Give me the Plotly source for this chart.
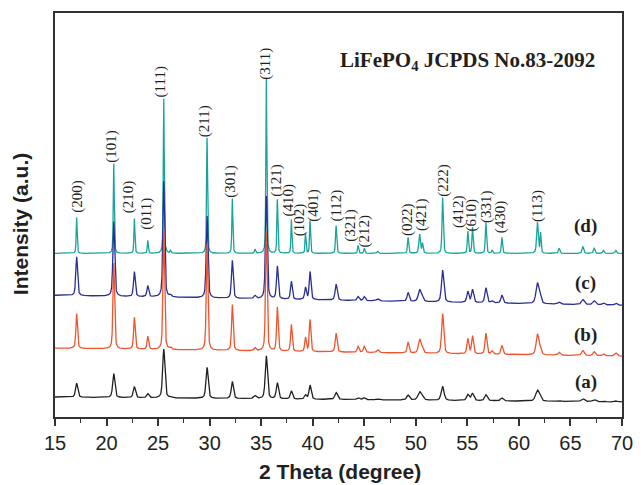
import numpy as np
import plotly.graph_objects as go

# Peak positions (2 theta, degrees) shared by the four patterns
peak_pos = [17.1, 20.7, 22.7, 24.0, 25.55, 26.2, 29.75, 32.2, 34.4, 35.5,
            36.57, 37.93, 39.3, 39.74, 42.27, 44.4, 45.0, 46.3, 49.25, 50.37,
            50.65, 52.6, 55.05, 55.5, 56.8, 57.4, 58.35, 61.8, 62.1, 63.9,
            66.2, 67.3, 68.2, 69.4]
# Relative peak broadening per reflection
peak_rel_width = [1.0, 1.0, 1.0, 1.0, 1.0, 1.0, 1.0, 1.0, 1.2, 1.0,
                  1.0, 1.0, 1.0, 1.0, 1.2, 1.2, 1.2, 1.5, 1.2, 1.6,
                  1.2, 1.3, 1.2, 1.2, 1.2, 1.2, 1.2, 1.7, 1.0, 1.5,
                  1.6, 1.6, 1.5, 1.5]

# Peak heights (a.u.) for each sample
height_d = [36, 90, 35, 13, 155, 3, 116, 55, 4, 176,
            54, 34, 20, 33, 28, 8, 5, 2, 16, 19,
            10, 56, 22, 26, 31, 3, 16, 31, 20, 5,
            7, 5, 3, 3]
height_c = [39, 75, 25, 11, 116, 2, 82, 38, 3, 103,
            33, 18, 12, 28, 16, 4, 4, 2, 9, 12,
            4, 32, 11, 13, 15, 2, 8, 21, 6, 2,
            5, 4, 2, 2]
height_b = [35, 86, 32, 13, 121, 2, 107, 46, 3, 120,
            44, 27, 14, 32, 19, 6, 6, 3, 11, 14,
            5, 40, 15, 18, 21, 3, 9, 21, 6, 3,
            5, 4, 2, 3]
height_a = [14, 24, 11, 4, 49, 1, 31, 17, 3, 43,
            16, 8, 4, 14, 7, 2, 2, 1, 5, 8,
            3, 14, 6, 7, 6, 1, 3, 11, 3, 1,
            3, 2, 1, 1]

# Base peak width (FWHM, degrees) and background level at 15 and 70 degrees
fwhm = {"a": 0.25, "b": 0.18, "c": 0.2, "d": 0.11}
background = {"a": (20, 15), "b": (69, 61), "c": (122, 112), "d": (164, 164)}

# Miller indices and label placement (2 theta, label foot in a.u.)
hkl_text = ["(200)", "(101)", "(210)", "(011)", "(111)", "(211)", "(301)", "(311)",
            "(121)", "(410)", "(102)", "(401)", "(112)", "(321)", "(212)", "(022)",
            "(421)", "(222)", "(412)", "(610)", "(331)", "(430)", "(113)"]
hkl_pos = [17.1, 20.4, 22.1, 23.85, 25.2, 29.5, 31.95, 35.45,
           36.4, 37.65, 38.8, 40.1, 42.27, 43.7, 45.03, 49.25,
           50.6, 52.6, 54.2, 55.4, 56.9, 58.3, 61.8]
hkl_foot = [204, 254, 203, 187, 319, 280, 219, 337,
            220, 200, 180, 195, 195, 175, 169, 180,
            185, 220, 188, 185, 194, 183, 195]

sample_labels = ["(a)", "(b)", "(c)", "(d)"]
sample_label_y = [0.086, 0.2025, 0.331, 0.4716]

colors = {"a": "rgb(35,31,32)", "b": "rgb(240,84,44)",
          "c": "rgb(40,46,146)", "d": "rgb(24,164,154)"}

two_theta = np.arange(15.0, 70.0001, 0.01)


def pattern(heights, base_fwhm, bg):
    """Pseudo-Voigt peak sum on a linear background."""
    y = bg[0] + (bg[1] - bg[0]) * (two_theta - 15.0) / 55.0
    for p, h, w in zip(peak_pos, heights, peak_rel_width):
        g = base_fwhm * w / 2.0
        lor = 1.0 / (1.0 + ((two_theta - p) / g) ** 2)
        gau = np.exp(-np.log(2) * ((two_theta - p) / g) ** 2)
        y = y + h * (0.5 * lor + 0.5 * gau)
    return y


fig = go.Figure()
for key, hts in [("d", height_d), ("c", height_c), ("b", height_b), ("a", height_a)]:
    fig.add_trace(go.Scatter(
        x=two_theta, y=pattern(hts, fwhm[key], background[key]),
        mode="lines", line=dict(color=colors[key], width=1.3),
        showlegend=False, hoverinfo="skip"))

annotations = []
for txt, xp, yf in zip(hkl_text, hkl_pos, hkl_foot):
    annotations.append(dict(
        x=xp, y=yf, xref="x", yref="y", text=txt, showarrow=False,
        textangle=-90, xanchor="center", yanchor="bottom", borderpad=0,
        font=dict(family="Liberation Serif", size=15, color="rgb(35,31,32)")))

for txt, yp in zip(sample_labels, sample_label_y):
    annotations.append(dict(
        x=0.936, y=yp, xref="paper", yref="paper", text="<b>" + txt + "</b>",
        showarrow=False, xanchor="center", yanchor="middle",
        font=dict(family="Liberation Serif", size=19, color="rgb(35,31,32)")))

annotations.append(dict(
    x=0.728, y=0.881, xref="paper", yref="paper",
    text="<b>LiFePO<sub>4</sub> JCPDS No.83-2092</b>", showarrow=False,
    xanchor="center", yanchor="middle",
    font=dict(family="Liberation Serif", size=21, color="rgb(35,31,32)")))

annotations.append(dict(
    x=0.502, y=-0.136, xref="paper", yref="paper",
    text="<b>2 Theta (degree)</b>", showarrow=False,
    xanchor="center", yanchor="middle",
    font=dict(family="Liberation Sans", size=21, color="rgb(35,31,32)")))

annotations.append(dict(
    x=-0.0606, y=0.4765, xref="paper", yref="paper",
    text="<b>Intensity (a.u.)</b>", showarrow=False, textangle=-90,
    xanchor="center", yanchor="middle",
    font=dict(family="Liberation Sans", size=21, color="rgb(35,31,32)")))

fig.update_layout(
    width=644, height=485,
    margin=dict(l=55, r=11, t=12, b=68),
    paper_bgcolor="white", plot_bgcolor="white",
    annotations=annotations,
    xaxis=dict(
        range=[15, 70], dtick=5, tick0=15, showgrid=False, zeroline=False,
        showline=True, linewidth=2, linecolor="rgb(50,50,50)", mirror=True,
        ticks="outside", ticklen=7, tickwidth=1.5, tickcolor="rgb(50,50,50)",
        minor=dict(dtick=2.5, ticks="outside", ticklen=4, tickwidth=1.2,
                   tickcolor="rgb(50,50,50)", showgrid=False),
        tickfont=dict(family="Liberation Sans", size=20, color="rgb(35,31,32)")),
    yaxis=dict(
        range=[0, 405], showgrid=False, zeroline=False, showticklabels=False,
        ticks="", showline=True, linewidth=2, linecolor="rgb(50,50,50)",
        mirror=True),
)

fig.write_html("out.html")
